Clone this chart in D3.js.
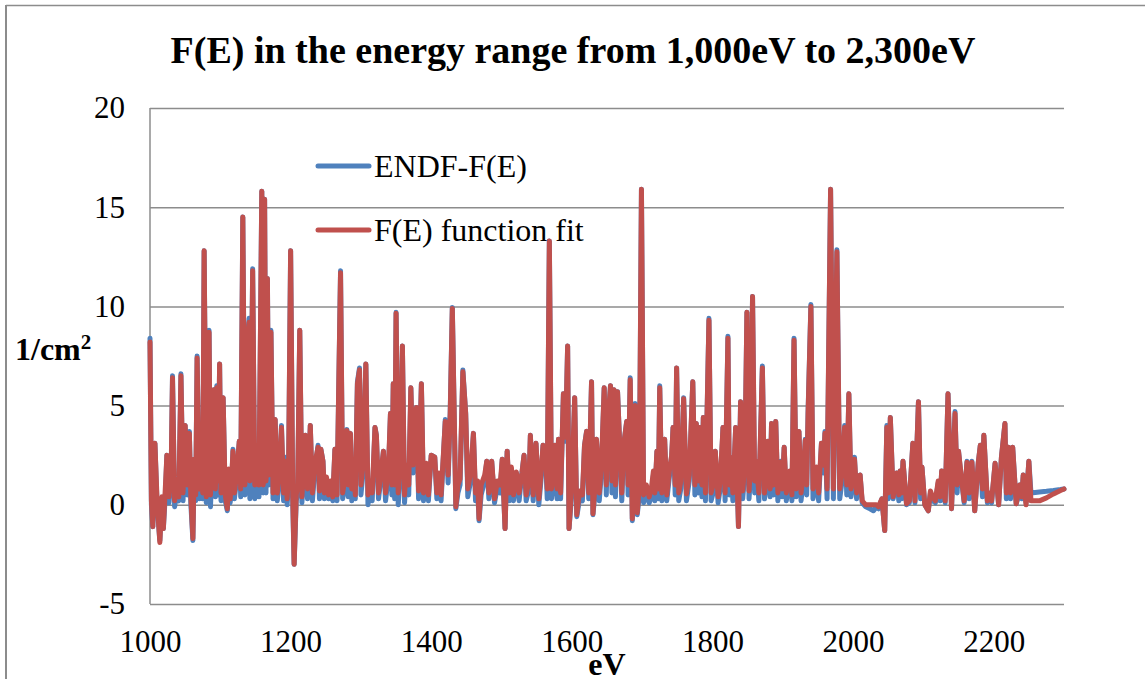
<!DOCTYPE html>
<html>
<head>
<meta charset="utf-8">
<script src="https://cdn.jsdelivr.net/npm/d3@7"></script>
<style>
body { margin: 0; background: #fff; }
text { font-family: "Liberation Serif", "Times New Roman", serif; fill: #000; }
</style>
</head>
<body>
<script>
// dati (eV, 1/cm2)
var energia = [
  1000,1002,1004,1007,1010,1014,1017,1019,1022,1024,
  1027,1030,1032,1035,1038,1041,1044,1047,1050,1053,
  1056,1058,1061,1063,1065,1067,1070,1073,1075,1077,
  1080,1082,1084,1086,1089,1091,1093,1095,1097,1099,
  1101,1104,1107,1110,1112,1114,1116,1118,1120,1123,
  1127,1129,1132,1135,1138,1141,1142,1144,1146,1149,
  1152,1155,1159,1161,1163,1165,1167,1169,1172,1175,
  1178,1181,1184,1187,1190,1193,1195,1197,1200,1203,
  1205,1208,1210,1213,1216,1219,1221,1224,1226,1228,
  1231,1234,1239,1241,1243,1246,1248,1251,1254,1257,
  1260,1263,1266,1271,1274,1278,1280,1282,1285,1287,
  1290,1292,1295,1298,1300,1303,1307,1310,1313,1316,
  1320,1322,1325,1328,1332,1335,1339,1342,1344,1346,
  1348,1350,1353,1356,1359,1362,1365,1368,1371,1374,
  1377,1379,1382,1386,1389,1393,1396,1400,1405,1408,
  1411,1414,1420,1424,1427,1430,1435,1438,1441,1445,
  1449,1452,1456,1460,1463,1466,1468,1471,1476,1479,
  1482,1486,1490,1494,1498,1501,1505,1508,1511,1514,
  1517,1521,1525,1529,1532,1535,1539,1541,1545,1549,
  1553,1556,1559,1562,1565,1568,1571,1574,1576,1579,
  1581,1584,1588,1591,1594,1596,1600,1604,1607,1611,
  1615,1618,1621,1624,1628,1630,1633,1635,1639,1642,
  1646,1649,1652,1655,1657,1660,1662,1665,1668,1671,
  1674,1678,1680,1683,1686,1688,1690,1693,1696,1699,
  1702,1706,1710,1713,1716,1718,1721,1723,1725,1728,
  1732,1735,1739,1742,1744,1747,1749,1752,1755,1759,
  1763,1767,1772,1775,1777,1780,1782,1785,1787,1790,
  1795,1798,1801,1804,1808,1811,1815,1818,1822,1824,
  1826,1829,1833,1837,1840,1843,1846,1849,1852,1854,
  1857,1860,1862,1866,1871,1874,1877,1879,1882,1884,
  1887,1890,1893,1897,1899,1902,1905,1910,1913,1916,
  1919,1923,1926,1929,1932,1934,1936,1940,1943,1946,
  1948,1951,1955,1958,1960,1963,1968,1972,1977,1981,
  1984,1988,1991,1994,1997,2000,2002,2005,2007,2010,
  2013,2018,2024,2029,2033,2036,2041,2045,2048,2050,
  2053,2057,2060,2062,2065,2067,2069,2071,2076,2080,
  2085,2088,2093,2096,2098,2102,2107,2110,2113,2117,
  2121,2124,2126,2131,2135,2140,2145,2148,2150,2154,
  2158,2162,2165,2169,2173,2178,2181,2184,2186,2191,
  2194,2197,2202,2207,2211,2216,2218,2221,2224,2227,
  2232,2235,2237,2240,2242,2246,2250,2253,2265,2275,
  2285,2295,2300
];

var endf = [
  8.4,0.0,-1.1,3.1,0.0,-1.8,0.2,-1.2,0.6,2.5,
  0.1,1.2,6.5,-0.1,0.6,0.2,6.6,0.2,4.0,0.5,
  3.7,0.1,-1.8,2.3,0.2,7.5,0.3,1.6,0.3,12.8,
  0.1,5.0,8.8,-0.1,2.6,5.8,0.4,6.0,0.5,7.1,
  0.2,5.4,0.2,-0.3,1.4,0.1,0.8,2.8,0.3,1.2,
  3.2,0.4,14.5,0.5,8.0,9.4,0.3,4.8,11.9,0.3,
  2.2,0.4,15.8,0.6,15.4,0.6,11.4,1.0,8.8,0.3,
  4.3,0.2,1.2,4.0,0.2,2.4,0.0,1.0,12.8,0.2,
  -3.0,0.2,0.6,8.8,0.1,1.5,3.5,0.3,1.6,4.0,
  0.2,1.6,3.0,0.3,2.8,2.2,0.3,1.0,0.3,0.9,
  0.2,2.8,0.2,11.8,0.3,1.2,3.8,0.4,3.6,0.2,
  1.6,0.3,6.2,6.9,0.5,1.6,7.1,0.0,0.8,0.2,
  3.9,3.5,0.3,1.2,2.7,0.2,1.4,4.6,0.5,6.1,
  0.3,9.7,0.0,1.5,8.0,0.1,1.6,0.5,5.9,1.6,
  4.4,4.9,0.3,6.1,0.2,2.0,0.2,2.5,2.4,0.3,
  1.3,0.2,4.3,1.1,4.7,9.95,-0.2,0.6,1.0,6.8,
  4.6,0.4,1.2,3.6,0.2,0.8,-0.8,0.5,1.2,2.2,
  0.3,2.2,0.1,0.9,0.6,2.3,-1.2,2.7,0.2,1.6,
  0.2,1.6,0.2,1.6,2.5,0.2,0.8,3.5,0.2,3.1,
  0.0,1.2,3.0,2.9,0.3,13.3,0.3,1.1,3.0,0.3,
  3.3,0.3,5.6,3.2,8.0,-1.2,0.6,5.4,-0.6,0.3,
  0.2,3.0,3.7,0.3,6.2,-0.5,0.6,3.3,0.2,1.6,
  5.9,0.5,4.5,6.0,0.6,5.8,0.4,5.7,3.1,0.2,
  3.1,4.2,0.5,6.4,-0.8,1.6,5.1,-0.5,0.5,15.9,
  0.1,0.6,0.1,0.4,1.5,0.2,2.7,0.3,6.0,0.2,
  3.3,0.2,1.5,2.5,3.9,0.5,6.9,0.2,0.8,5.4,
  0.2,1.2,6.2,0.5,4.1,0.6,3.9,0.4,4.4,0.2,
  9.4,0.2,0.6,2.7,0.1,0.8,3.9,0.2,8.5,0.5,
  2.4,0.2,3.9,-1.1,5.2,0.3,1.6,9.7,0.3,1.4,
  10.5,0.6,2.2,0.2,7.0,0.3,1.2,3.2,0.4,4.1,
  0.5,4.2,0.2,2.2,0.4,2.9,0.2,1.5,0.2,8.4,
  0.4,3.7,0.2,1.2,3.3,0.5,4.7,10.1,0.3,0.8,
  1.8,0.2,3.1,1.6,3.7,0.3,15.9,0.3,12.85,0.3,
  1.1,4.0,0.5,5.6,0.4,1.2,2.4,0.3,1.4,1.5,
  0.1,-0.1,-0.2,-0.3,-0.1,-0.2,0.3,-1.3,4.0,0.3,
  4.4,0.3,1.0,1.6,0.2,1.7,0.3,2.2,0.0,0.1,
  3.1,0.1,5.2,0.3,1.9,0.0,-0.3,0.6,0.2,0.1,
  1.1,0.2,1.7,0.1,5.6,-0.2,4.7,0.6,2.7,1.3,
  0.1,2.2,0.3,2.2,-0.3,2.1,3.0,0.4,3.5,0.1,
  0.3,0.1,2.1,0.0,2.4,4.1,0.3,2.9,0.3,2.9,
  0.05,0.4,1.0,0.3,1.5,0.1,2.2,0.6,0.65,0.68,
  0.72,0.77,0.8
];

var fit = [
  8.2,0.2,-1.1,3.1,0.3,-1.9,0.4,-1.2,1.0,2.5,
  0.4,1.5,6.4,0.2,1.0,0.4,6.5,0.6,4.0,1.0,
  3.6,0.5,-1.7,2.3,0.5,7.4,0.8,2.0,0.6,12.8,
  0.4,5.0,8.7,0.5,3.0,5.8,0.8,5.9,1.2,7.1,
  0.6,5.4,0.5,-0.2,1.8,0.3,1.2,2.7,0.6,1.5,
  3.2,0.8,14.5,1.0,8.0,9.2,1.2,5.0,11.8,1.0,
  2.5,1.0,15.8,1.0,15.4,1.2,11.4,1.5,8.7,0.6,
  4.3,0.6,1.6,3.9,0.6,2.2,0.3,1.5,12.8,0.5,
  -3.0,0.5,1.0,8.8,0.4,2.0,3.5,0.8,2.0,4.0,
  0.6,2.0,2.9,0.7,2.8,2.2,0.6,1.4,0.5,1.2,
  0.4,2.8,0.5,11.7,0.6,1.5,3.75,1.0,3.6,0.8,
  2.0,0.5,6.1,6.8,1.0,2.0,7.1,0.5,1.2,0.6,
  3.9,3.5,0.6,1.5,2.7,0.6,1.8,4.6,1.0,6.1,
  1.0,9.65,0.6,2.0,8.0,0.5,2.0,1.0,5.9,2.0,
  4.4,4.9,0.7,6.1,0.6,2.1,0.5,2.5,2.4,0.6,
  1.6,0.5,4.2,1.5,4.6,9.9,-0.1,1.0,1.3,6.7,
  4.6,0.8,1.6,3.6,0.6,1.2,-0.7,1.0,1.5,2.2,
  0.6,2.2,0.3,1.2,1.0,2.3,-1.2,2.7,0.6,1.9,
  0.5,1.65,0.6,1.6,2.5,0.5,1.2,3.5,0.5,3.1,
  0.3,1.5,3.0,2.9,0.8,13.3,0.8,1.5,3.0,0.8,
  3.3,0.6,5.6,3.4,8.0,-1.2,1.0,5.4,-0.5,0.7,
  0.5,3.0,3.7,0.6,6.2,-0.45,1.0,3.3,0.6,2.0,
  5.9,1.0,4.5,6.0,1.2,5.8,1.0,5.7,3.1,0.6,
  3.1,4.2,1.0,6.3,-0.7,2.0,5.0,-0.4,1.0,15.9,
  0.5,1.0,0.4,0.8,1.7,0.6,2.7,0.8,5.9,0.6,
  3.3,0.5,1.8,2.5,3.9,1.0,6.9,0.6,1.2,5.35,
  0.55,1.5,6.2,1.0,4.1,1.2,3.9,1.0,4.4,0.6,
  9.3,0.6,1.0,2.7,0.4,1.2,3.9,0.6,8.4,1.0,
  2.4,0.6,3.9,-1.1,5.2,0.7,2.0,9.7,0.7,1.8,
  10.5,1.2,2.2,0.6,6.9,0.6,1.6,3.2,0.8,4.1,
  1.0,4.2,0.6,2.15,0.8,2.9,0.6,1.7,0.5,8.3,
  0.8,3.7,0.6,1.5,3.25,1.0,4.6,10.0,0.8,1.2,
  1.9,0.6,3.1,2.0,3.6,0.8,15.9,0.8,12.75,0.8,
  1.5,3.9,1.0,5.6,0.8,1.5,2.3,0.6,1.4,1.5,
  0.2,0.0,0.0,0.0,0.0,-0.1,0.3,-1.3,3.9,0.6,
  4.4,0.4,1.2,1.6,0.5,1.7,0.6,2.2,0.05,0.2,
  3.1,0.2,5.2,0.6,1.9,0.0,-0.3,0.7,0.4,0.2,
  1.2,0.4,1.7,0.2,5.6,-0.2,4.6,1.0,2.7,1.4,
  0.2,2.15,0.6,2.15,-0.3,2.1,3.0,0.8,3.5,0.2,
  0.6,0.2,2.1,0.0,2.4,4.1,0.6,2.9,0.6,2.9,
  0.05,0.6,1.0,0.4,1.5,0.0,2.2,0.2,0.2,0.35,
  0.55,0.72,0.8
];

var xTicks = [1000, 1200, 1400, 1600, 1800, 2000, 2200];
var yTicks = [-5, 0, 5, 10, 15, 20];
var serieNomi = ["ENDF-F(E)", "F(E) function fit"];
var titolo = "F(E) in the energy range from 1,000eV to 2,300eV";

// dimensioni (niente "top" globale: window.top e' di sola lettura)
var w = 1145;
var h = 679;
var plotL = 150, plotR = 1064, plotT = 108, plotB = 604;
var colori = ["#4F81BD", "#C0504D"];
var grigio = "#8c8c8c";

var svg = d3.select("body")
            .append("svg")
            .attr("width", w)
            .attr("height", h);

var xScale = d3.scaleLinear().domain([1000, 2300]).range([plotL, plotR]);
var yScale = d3.scaleLinear().domain([-5, 20]).range([plotB, plotT]);

// cornice esterna
svg.append("line")
   .attr("x1", 6).attr("x2", w).attr("y1", 5.5).attr("y2", 5.5)
   .attr("stroke", grigio).attr("stroke-width", 1.5);
svg.append("line")
   .attr("x1", 6).attr("x2", 6).attr("y1", 5).attr("y2", h)
   .attr("stroke", grigio).attr("stroke-width", 2);

// griglia orizzontale
svg.append("g")
   .attr("transform", "translate(" + plotL + ",0)")
   .call(d3.axisLeft(yScale).tickValues(yTicks).tickSize(-(plotR - plotL)).tickFormat(""))
   .call(g => g.select(".domain").remove())
   .selectAll("line")
   .attr("stroke", grigio)
   .attr("stroke-width", 1.5);

// asse verticale
svg.append("line")
   .attr("x1", plotL).attr("x2", plotL).attr("y1", plotT).attr("y2", plotB)
   .attr("stroke", grigio).attr("stroke-width", 1.5);

// etichette asse y (trattino semplice come nell'originale)
svg.append("g")
   .attr("transform", "translate(" + plotL + ",0)")
   .call(d3.axisLeft(yScale).tickValues(yTicks).tickSize(0).tickPadding(25).tickFormat(d => String(d)))
   .call(g => g.select(".domain").remove())
   .selectAll("text")
   .attr("font-family", "Liberation Serif")
   .attr("font-size", 31)
   .attr("fill", "#000");

// etichette asse x
svg.append("g")
   .attr("transform", "translate(0," + plotB + ")")
   .call(d3.axisBottom(xScale).tickValues(xTicks).tickSize(0).tickPadding(26).tickFormat(d => String(d)))
   .call(g => g.select(".domain").remove())
   .selectAll("text")
   .attr("font-family", "Liberation Serif")
   .attr("font-size", 31)
   .attr("fill", "#000");

// linee dei dati
var idx = d3.range(energia.length);
[endf, fit].forEach(function(serie, s) {
    var line = d3.line()
        .x(i => xScale(energia[i]))
        .y(i => yScale(serie[i]));
    svg.append("path")
       .datum(idx)
       .attr("d", line)
       .attr("fill", "none")
       .attr("stroke", colori[s])
       .attr("stroke-width", 5)
       .attr("stroke-linejoin", "round")
       .attr("stroke-linecap", "round");
});

// titolo
svg.append("text")
   .attr("x", 573)
   .attr("y", 63)
   .attr("text-anchor", "middle")
   .attr("font-size", 38)
   .attr("font-weight", "bold")
   .text(titolo);

// titolo asse y
var yLab = svg.append("text")
   .attr("x", 15)
   .attr("y", 360)
   .attr("font-size", 32)
   .attr("font-weight", "bold");
yLab.append("tspan").text("1/cm");
yLab.append("tspan").attr("font-size", 21).attr("dy", -11).text("2");

// titolo asse x
svg.append("text")
   .attr("x", 607)
   .attr("y", 675)
   .attr("text-anchor", "middle")
   .attr("font-size", 32)
   .attr("font-weight", "bold")
   .text("eV");

// legenda
serieNomi.forEach(function(nome, s) {
    var yy = 166 + s * 64;
    svg.append("line")
       .attr("x1", 318).attr("x2", 369).attr("y1", yy).attr("y2", yy)
       .attr("stroke", colori[s]).attr("stroke-width", 5)
       .attr("stroke-linecap", "round");
    svg.append("text")
       .attr("x", 374)
       .attr("y", yy + 11)
       .attr("font-size", 32)
       .text(nome);
});
</script>
</body>
</html>
